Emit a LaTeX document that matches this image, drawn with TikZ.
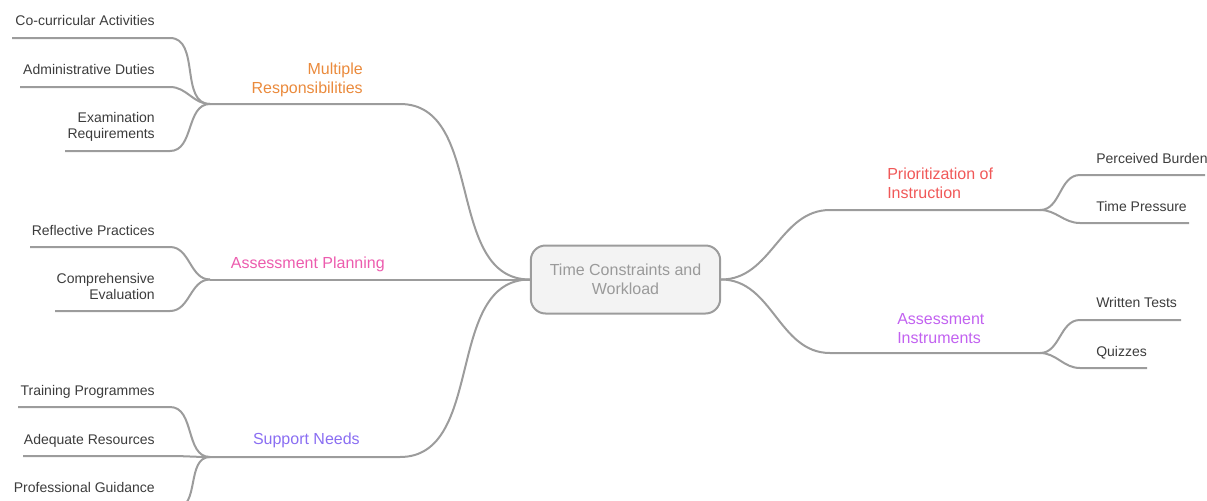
\documentclass[tikz,border=0pt]{standalone}
\usepackage{fontspec}
\setmainfont{Liberation Sans}
\usetikzlibrary{positioning}

\definecolor{linegray}{HTML}{9C9C9C}
\definecolor{leaftext}{HTML}{3C3C3C}
\definecolor{roottext}{HTML}{9A9A9A}
\definecolor{rootfill}{HTML}{F3F3F3}
\definecolor{mrorange}{HTML}{EA8A3C}
\definecolor{appink}{HTML}{EC5CAE}
\definecolor{snblue}{HTML}{8A6EF2}
\definecolor{prred}{HTML}{F05858}
\definecolor{aipurple}{HTML}{C262F0}

\tikzset{
  branch/.style={draw=linegray, line width=1.5pt},
  leaf/.style={text=leaftext, inner sep=0pt, font=\fontsize{10.5}{12}\selectfont},
  topic/.style={inner sep=0pt, font=\fontsize{12}{14}\selectfont},
  rootbox/.style={draw=linegray, line width=1.5pt, fill=rootfill, rounded corners=11pt,
    minimum width=142pt, minimum height=51pt, align=center, text=roottext,
    font=\fontsize{12}{14}\selectfont}
}

\begin{document}
\begin{tikzpicture}[x=0.75pt, y=-0.75pt]
  \useasboundingbox (0,0) rectangle (1207,500);
  \clip (0,0) rectangle (1207,500);

  % centre
  \node[rootbox] (root) at (625.5,279.5) {Time Constraints and\\Workload};

  % left branches
  \coordinate (mr-b) at (400,104);
  \coordinate (mr-j) at (210,104);
  \coordinate (ap-j) at (210,279.5);
  \coordinate (sn-b) at (400,457);
  \coordinate (sn-j) at (210,457);
  \node[topic, text=mrorange, align=right, anchor=base east] (mr) at (363,93) {Multiple\\Responsibilities};
  \node[topic, text=appink, anchor=base east] (ap) at (385,268) {Assessment Planning};
  \node[topic, text=snblue, anchor=base east] (sn) at (360,444) {Support Needs};
  \draw[branch] (root.west) to[out=180, in=0] (mr-b) -- (mr-j);
  \draw[branch] (root.west) -- (ap-j);
  \draw[branch] (root.west) to[out=180, in=0] (sn-b) -- (sn-j);

  % leaves of the left branches
  \coordinate (co-b) at (170,38);  \coordinate (co-e) at (12,38);
  \coordinate (ad-b) at (170,87);  \coordinate (ad-e) at (20,87);
  \coordinate (ex-b) at (170,151); \coordinate (ex-e) at (65,151);
  \coordinate (rp-b) at (170,247); \coordinate (rp-e) at (30,247);
  \coordinate (ce-b) at (170,311); \coordinate (ce-e) at (55,311);
  \coordinate (tp-b) at (170,407); \coordinate (tp-e) at (18,407);
  \coordinate (ar-b) at (170,456); \coordinate (ar-e) at (23,456);
  \coordinate (pg-b) at (176,508); \coordinate (pg-e) at (12,508);
  \node[leaf, anchor=base east] (co) at (155,25) {Co-curricular Activities};
  \node[leaf, anchor=base east] (ad) at (155,74) {Administrative Duties};
  \node[leaf, align=right, anchor=base east] (ex) at (155,138) {Examination\\Requirements};
  \node[leaf, anchor=base east] (rp) at (155,235) {Reflective Practices};
  \node[leaf, align=right, anchor=base east] (ce) at (155,299) {Comprehensive\\Evaluation};
  \node[leaf, anchor=base east] (tp) at (155,395) {Training Programmes};
  \node[leaf, anchor=base east] (ar) at (155,444) {Adequate Resources};
  \node[leaf, anchor=base east] (pg) at (155,492) {Professional Guidance};
  \draw[branch] (mr-j) to[out=180, in=0] (co-b) -- (co-e);
  \draw[branch] (mr-j) to[out=180, in=0] (ad-b) -- (ad-e);
  \draw[branch] (mr-j) to[out=180, in=0] (ex-b) -- (ex-e);
  \draw[branch] (ap-j) to[out=180, in=0] (rp-b) -- (rp-e);
  \draw[branch] (ap-j) to[out=180, in=0] (ce-b) -- (ce-e);
  \draw[branch] (sn-j) to[out=180, in=0] (tp-b) -- (tp-e);
  \draw[branch] (sn-j) to[out=180, in=0] (ar-b) -- (ar-e);
  \draw[branch] (sn-j) to[out=180, in=0] (pg-b) -- (pg-e);

  % right branches
  \coordinate (pr-b) at (830,210);
  \coordinate (pr-j) at (1040,210);
  \coordinate (ai-b) at (830,353);
  \coordinate (ai-j) at (1040,353);
  \node[topic, text=prred, align=left, anchor=base west] (pr) at (887,198) {Prioritization of\\Instruction};
  \node[topic, text=aipurple, align=left, anchor=base west] (ai) at (897,343) {Assessment\\Instruments};
  \draw[branch] (root.east) to[out=0, in=180] (pr-b) -- (pr-j);
  \draw[branch] (root.east) to[out=0, in=180] (ai-b) -- (ai-j);

  % leaves of the right branches
  \coordinate (pb-b) at (1080,175); \coordinate (pb-e) at (1205,175);
  \coordinate (tq-b) at (1080,223); \coordinate (tq-e) at (1189,223);
  \coordinate (wt-b) at (1080,320); \coordinate (wt-e) at (1181,320);
  \coordinate (qz-b) at (1080,368); \coordinate (qz-e) at (1147,368);
  \node[leaf, anchor=base west] (pb) at (1096,163) {Perceived Burden};
  \node[leaf, anchor=base west] (tq) at (1096,211) {Time Pressure};
  \node[leaf, anchor=base west] (wt) at (1096,307) {Written Tests};
  \node[leaf, anchor=base west] (qz) at (1096,356) {Quizzes};
  \draw[branch] (pr-j) to[out=0, in=180] (pb-b) -- (pb-e);
  \draw[branch] (pr-j) to[out=0, in=180] (tq-b) -- (tq-e);
  \draw[branch] (ai-j) to[out=0, in=180] (wt-b) -- (wt-e);
  \draw[branch] (ai-j) to[out=0, in=180] (qz-b) -- (qz-e);
\end{tikzpicture}
\end{document}
